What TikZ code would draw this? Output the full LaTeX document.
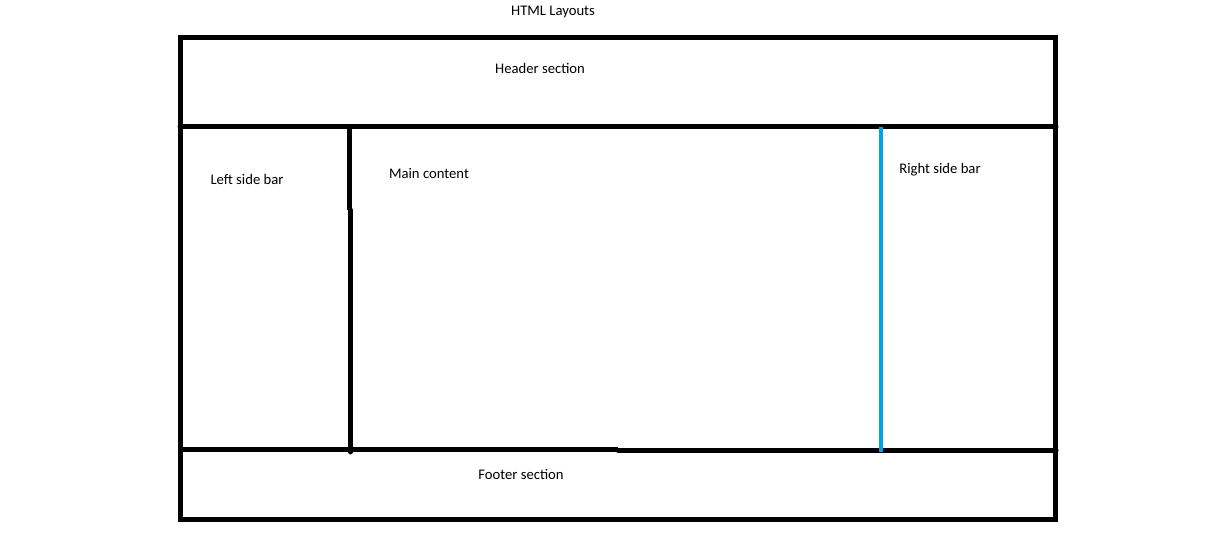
\documentclass[tikz,border=0pt]{standalone}
\usepackage{fontspec}
\setmainfont{Carlito}
\definecolor{paintblue}{RGB}{0, 162, 232}
\definecolor{inkblack}{RGB}{0, 0, 0}
\usetikzlibrary{positioning, calc}

\begin{document}
\begin{tikzpicture}[x=0.75pt, y=-0.75pt]
  \useasboundingbox (0, 0) rectangle (1228, 545);

  % Frame
  \draw[line width=3.75pt, inkblack] (180, 38) rectangle (1055, 519);
  \draw[line width=3.75pt, inkblack, line cap=round] (180, 127) -- (1056, 127);
  \draw[line width=3.75pt, inkblack] (180, 449) -- (618, 449);
  \draw[line width=3.75pt, inkblack, line cap=round] (618, 450) -- (1056, 450);

  % Side bars
  \draw[line width=3.6pt, inkblack] (349.5, 127) -- (349.5, 210);
  \draw[line width=3.6pt, inkblack, line cap=round] (350.5, 210) -- (350.5, 452);
  \draw[line width=3pt, paintblue] (881, 127) -- (881, 452);

  % Labels
  \node[font=\fontsize{11pt}{13pt}\selectfont] (title) at (553, 12) {HTML Layouts};
  \node[font=\fontsize{11pt}{13pt}\selectfont] (header) at (540, 68) {Header section};
  \node[font=\fontsize{11pt}{13pt}\selectfont] (left) at (247, 179) {Left side bar};
  \node[font=\fontsize{11pt}{13pt}\selectfont] (main) at (429, 174) {Main content};
  \node[font=\fontsize{11pt}{13pt}\selectfont] (right) at (940, 170) {Right side bar};
  \node[font=\fontsize{11pt}{13pt}\selectfont] (footer) at (521, 474) {Footer section};
\end{tikzpicture}
\end{document}
